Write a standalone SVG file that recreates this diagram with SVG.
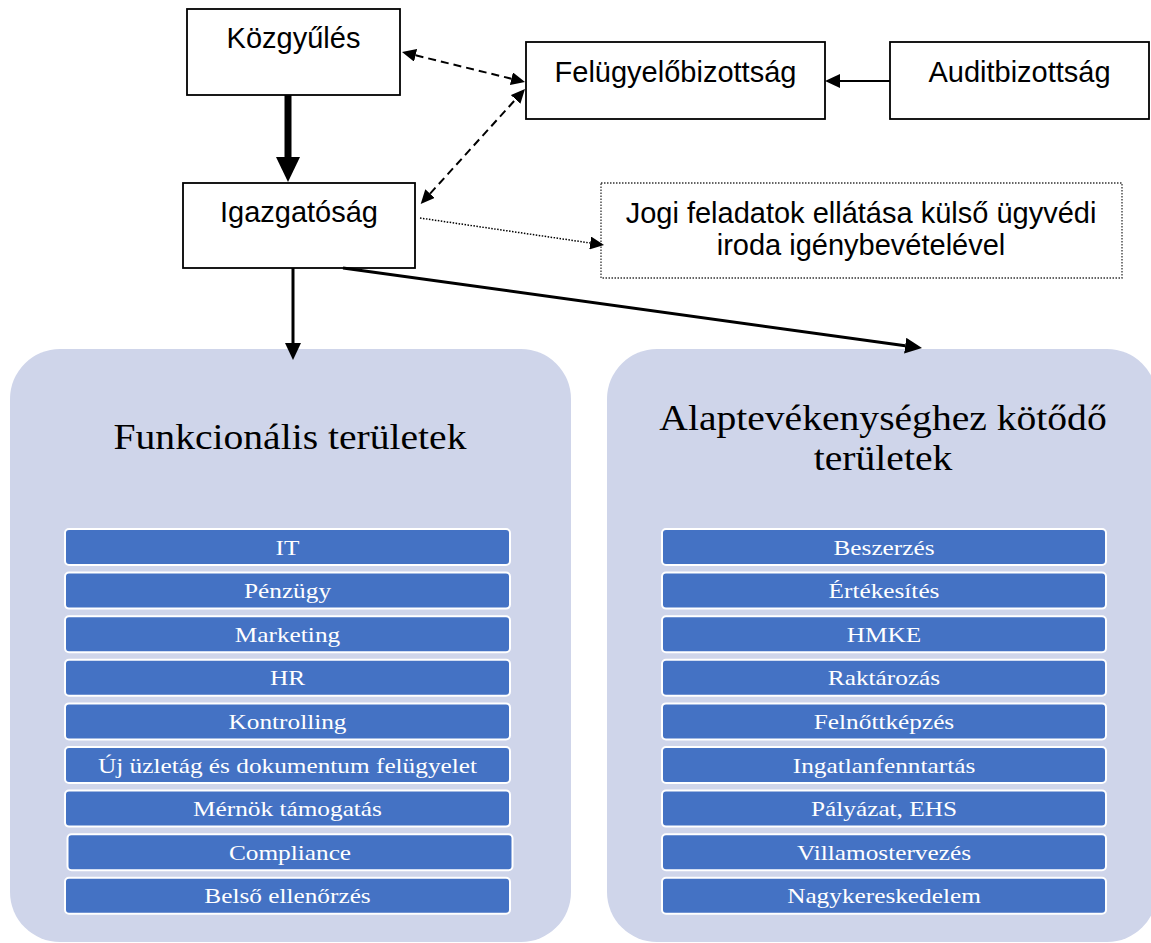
<svg xmlns="http://www.w3.org/2000/svg" width="1151" height="943" viewBox="0 0 1151 943">
<style>
.box{fill:#fff;stroke:#000;stroke-width:1.8}
.dotbox{fill:#fff;stroke:#333;stroke-width:1.3;stroke-dasharray:1.5 1.5}
.lbl{font-family:"Liberation Sans",Arial,sans-serif;font-size:29px;fill:#000;text-anchor:middle}
.panel{fill:#CFD5EA}
.title{font-family:"Liberation Serif","Times New Roman",serif;font-size:36px;fill:#000;text-anchor:middle}
.bar{fill:#4472C4;stroke:#fff;stroke-width:2}
.bt{font-family:"Liberation Serif","Times New Roman",serif;font-size:22px;fill:#fff;text-anchor:middle}
.c{fill:none;stroke:#000}
.thick{stroke-width:7}
.solid{stroke-width:3}
.thin{stroke-width:2}
.dash{stroke-width:2;stroke-dasharray:8 5}
.dot{stroke-width:1.5;stroke-dasharray:1.5 1.5}
</style>
<defs>
<marker id="ahThick" markerUnits="userSpaceOnUse" markerWidth="25" markerHeight="24" viewBox="0 0 25 24" refX="0" refY="12" orient="auto"><path d="M0,0L25,12L0,24z" fill="#000"/></marker>
<marker id="ahMed" markerUnits="userSpaceOnUse" markerWidth="17" markerHeight="16" viewBox="0 0 17 16" refX="0" refY="8" orient="auto"><path d="M0,0L17,8L0,16z" fill="#000"/></marker>
<marker id="ahSm" markerUnits="userSpaceOnUse" markerWidth="14" markerHeight="13" viewBox="0 0 14 13" refX="0" refY="6.5" orient="auto-start-reverse"><path d="M0,0L14,6.5L0,13z" fill="#000"/></marker>
<marker id="ahAud" markerUnits="userSpaceOnUse" markerWidth="15" markerHeight="14" viewBox="0 0 15 14" refX="0" refY="7" orient="auto"><path d="M0,0L15,7L0,14z" fill="#000"/></marker>
</defs>
<rect x="0" y="0" width="1151" height="943" fill="#fff"/>

<g id="kozgyules">
<rect class="box" x="187" y="9" width="213" height="86"/>
<text class="lbl" x="293.5" y="48">Közgyűlés</text>
</g>
<g id="felugyelobizottsag">
<rect class="box" x="526" y="42" width="299" height="77"/>
<text class="lbl" x="675.5" y="82">Felügyelőbizottság</text>
</g>
<g id="auditbizottsag">
<rect class="box" x="890" y="42" width="259" height="77"/>
<text class="lbl" x="1019.5" y="82">Auditbizottság</text>
</g>
<g id="igazgatosag">
<rect class="box" x="183" y="183" width="232" height="85"/>
<text class="lbl" x="299" y="222">Igazgatóság</text>
</g>
<g id="jogi">
<rect class="dotbox" x="601" y="183" width="521" height="95"/>
<text class="lbl" x="861" y="223">Jogi feladatok ellátása külső ügyvédi</text>
<text class="lbl" x="861" y="255">iroda igénybevételével</text>
</g>

<g id="funkcionalis">
<rect class="panel" x="10" y="349" width="561" height="593" rx="50" ry="50"/>
<text class="title" transform="translate(290,449) scale(1.1,1)">Funkcionális területek</text>
<g id="f-it"><rect class="bar" x="65" y="529" width="445" height="36" rx="4"/><text class="bt" transform="translate(287.5,554.5) scale(1.15,1)">IT</text></g>
<g id="f-penzugy"><rect class="bar" x="65" y="572.6" width="445" height="36" rx="4"/><text class="bt" transform="translate(287.5,598.1) scale(1.15,1)">Pénzügy</text></g>
<g id="f-marketing"><rect class="bar" x="65" y="616.2" width="445" height="36" rx="4"/><text class="bt" transform="translate(287.5,641.7) scale(1.15,1)">Marketing</text></g>
<g id="f-hr"><rect class="bar" x="65" y="659.8" width="445" height="36" rx="4"/><text class="bt" transform="translate(287.5,685.3) scale(1.15,1)">HR</text></g>
<g id="f-kontrolling"><rect class="bar" x="65" y="703.4" width="445" height="36" rx="4"/><text class="bt" transform="translate(287.5,728.9) scale(1.15,1)">Kontrolling</text></g>
<g id="f-uj"><rect class="bar" x="65" y="747" width="445" height="36" rx="4"/><text class="bt" transform="translate(287.5,772.5) scale(1.15,1)">Új üzletág és dokumentum felügyelet</text></g>
<g id="f-mernok"><rect class="bar" x="65" y="790.6" width="445" height="36" rx="4"/><text class="bt" transform="translate(287.5,816.1) scale(1.15,1)">Mérnök támogatás</text></g>
<g id="f-compliance"><rect class="bar" x="67.5" y="834.2" width="445" height="36" rx="4"/><text class="bt" transform="translate(290,859.7) scale(1.15,1)">Compliance</text></g>
<g id="f-belso"><rect class="bar" x="65" y="877.8" width="445" height="36" rx="4"/><text class="bt" transform="translate(287.5,903.3) scale(1.15,1)">Belső ellenőrzés</text></g>
</g>

<g id="alaptevekenyseg">
<rect class="panel" x="607" y="349" width="550" height="593" rx="50" ry="50"/>
<text class="title" transform="translate(883,430) scale(1.1,1)">Alaptevékenységhez kötődő</text>
<text class="title" transform="translate(883,470) scale(1.1,1)">területek</text>
<g id="a-beszerzes"><rect class="bar" x="662" y="529" width="444" height="36" rx="4"/><text class="bt" transform="translate(884,554.5) scale(1.15,1)">Beszerzés</text></g>
<g id="a-ertekesites"><rect class="bar" x="662" y="572.6" width="444" height="36" rx="4"/><text class="bt" transform="translate(884,598.1) scale(1.15,1)">Értékesítés</text></g>
<g id="a-hmke"><rect class="bar" x="662" y="616.2" width="444" height="36" rx="4"/><text class="bt" transform="translate(884,641.7) scale(1.15,1)">HMKE</text></g>
<g id="a-raktarozas"><rect class="bar" x="662" y="659.8" width="444" height="36" rx="4"/><text class="bt" transform="translate(884,685.3) scale(1.15,1)">Raktározás</text></g>
<g id="a-felnottkepzes"><rect class="bar" x="662" y="703.4" width="444" height="36" rx="4"/><text class="bt" transform="translate(884,728.9) scale(1.15,1)">Felnőttképzés</text></g>
<g id="a-ingatlan"><rect class="bar" x="662" y="747" width="444" height="36" rx="4"/><text class="bt" transform="translate(884,772.5) scale(1.15,1)">Ingatlanfenntartás</text></g>
<g id="a-palyazat"><rect class="bar" x="662" y="790.6" width="444" height="36" rx="4"/><text class="bt" transform="translate(884,816.1) scale(1.15,1)">Pályázat, EHS</text></g>
<g id="a-villamos"><rect class="bar" x="662" y="834.2" width="444" height="36" rx="4"/><text class="bt" transform="translate(884,859.7) scale(1.15,1)">Villamostervezés</text></g>
<g id="a-nagyker"><rect class="bar" x="662" y="877.8" width="444" height="36" rx="4"/><text class="bt" transform="translate(884,903.3) scale(1.15,1)">Nagykereskedelem</text></g>
</g>

<g id="connectors">
<path class="c thick" d="M288,95L288,157" marker-end="url(#ahThick)"/>
<path class="c dash" d="M415.6,55.3L511.4,78.7" marker-start="url(#ahSm)" marker-end="url(#ahSm)"/>
<path class="c dash" d="M430.1,193.6L515.6,99.4" marker-start="url(#ahSm)" marker-end="url(#ahSm)"/>
<path class="c thin" d="M890,81L840,81" marker-end="url(#ahAud)"/>
<path class="c dot" d="M420,218L590.2,243" marker-end="url(#ahSm)"/>
<path class="c solid" d="M293,268L293,343" marker-end="url(#ahMed)"/>
<path class="c solid" d="M343,268L905.2,345.7" marker-end="url(#ahMed)"/>
</g>
</svg>
